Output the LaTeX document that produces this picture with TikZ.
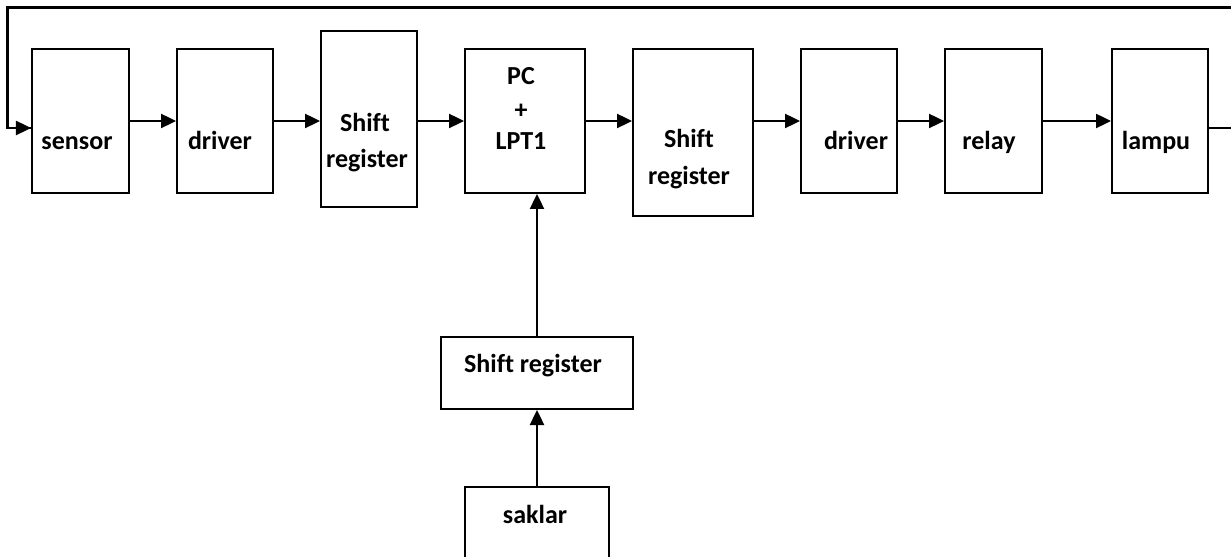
\documentclass[tikz,border=0pt]{standalone}
\usepackage{fontspec}
\setmainfont[Ligatures=NoCommon]{Carlito}
\usetikzlibrary{arrows.meta}
\tikzset{
  blk/.style={draw, line width=2bp, inner sep=0pt, minimum width=#1},
  lbl/.style={anchor=base, inner sep=0pt, font=\fontsize{26bp}{30bp}\selectfont\bfseries},
  conn/.style={line width=2.4bp},
  arr/.style={conn, -{Triangle[length=15bp,width=14bp]}}
}
\begin{document}
\begin{tikzpicture}[x=1bp,y=-1bp]
\useasboundingbox (0,0) rectangle (1231,557);
% boxes
\node[blk=97bp, minimum height=144bp] (sensor) at (80.5,121) {};
\node[blk=96bp, minimum height=144bp] (drv1) at (225,121) {};
\node[blk=96bp, minimum height=176bp] (sr1) at (369,119) {};
\node[blk=120bp, minimum height=144bp] (pc) at (525,121) {};
\node[blk=120bp, minimum height=167bp] (sr2) at (693,132.5) {};
\node[blk=96bp, minimum height=144bp] (drv2) at (849,121) {};
\node[blk=97bp, minimum height=144bp] (relay) at (993.5,121) {};
\node[blk=96bp, minimum height=144bp] (lampu) at (1160,121) {};
\node[blk=192bp, minimum height=72bp] (sr3) at (537,373) {};
\node[blk=144bp, minimum height=100bp] (saklar) at (537,537) {};
% texts
\node[lbl] (t1) at (77,150) {sensor};
\node[lbl] (t2) at (220,150) {driver};
\node[lbl] (t3a) at (365,132) {Shift};
\node[lbl] (t3b) at (367,168) {register};
\node[lbl] (t4a) at (521,85) {PC};
\node[lbl] (t4b) at (521,119) {+};
\node[lbl] (t4c) at (521,150) {LPT1};
\node[lbl] (t5a) at (689,148) {Shift};
\node[lbl] (t5b) at (689,185) {register};
\node[lbl] (t6) at (856,150) {driver};
\node[lbl] (t7) at (989,150) {relay};
\node[lbl] (t8) at (1156,150) {lampu};
\node[lbl] (t9) at (533,373) {Shift register};
\node[lbl] (t10) at (535,523) {saklar};
% connectors
\draw[arr] (sensor.east) -- (drv1.west);
\draw[arr] (drv1.east) -- (drv1.east -| sr1.west);
\draw[arr] (sr1.east |- pc.west) -- (pc.west);
\draw[arr] (pc.east) -- (pc.east -| sr2.west);
\draw[arr] (sr2.east |- drv2.west) -- (drv2.west);
\draw[arr] (drv2.east) -- (relay.west);
\draw[arr] (relay.east) -- (lampu.west);
\draw[arr] (sr3.north) -- (sr3.north |- pc.south);
\draw[arr] (saklar.north) -- (sr3.south);
% feedback loop
\coordinate (fbR) at (1240,128);
\coordinate (fbTR) at (1240,7.5);
\coordinate (fbTL) at (7.5,7.5);
\coordinate (fbIn) at (32,128);
\draw[conn] (lampu.east |- fbR) -- (fbR) -- (fbTR) -- (fbTL) |- (fbIn);
\draw[arr] (fbTL |- fbIn) -- (sensor.west |- fbIn);
\end{tikzpicture}
\end{document}
